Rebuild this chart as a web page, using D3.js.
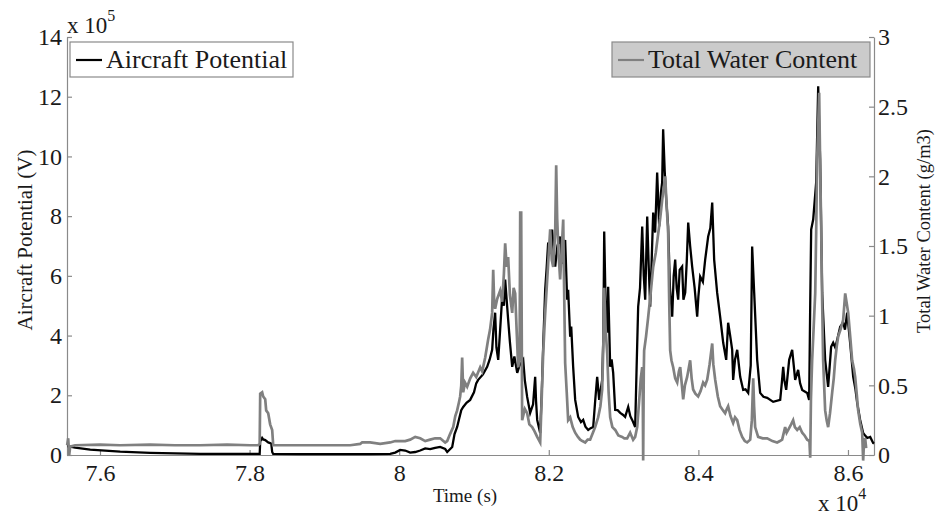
<!DOCTYPE html>
<html>
<head>
<meta charset="utf-8">
<script src="https://cdnjs.cloudflare.com/ajax/libs/d3/7.8.5/d3.min.js"></script>
<style>
	body { margin: 0; background: #fff; }
	svg { display: block; }
</style>
</head>
<body>
<script>
// time axis ticks (s) and value axis ticks
var x_ticks = [76000, 78000, 80000, 82000, 84000, 86000];
var ap_ticks = [0, 2e5, 4e5, 6e5, 8e5, 10e5, 12e5, 14e5];
var twc_ticks = [0, 0.5, 1, 1.5, 2, 2.5, 3];

// Aircraft Potential (V)
var ap_time = [
	75561, 75602, 75668, 75869, 76270, 76671, 77340, 78008, 78115, 78135,
	78142, 78168, 78182, 78209, 78249, 78275, 78290, 78302, 78316, 78676,
	79345, 79612, 79880, 79947, 80013, 80080, 80147, 80214, 80281, 80348,
	80414, 80481, 80548, 80615, 80642, 80709, 80740, 80775, 80800, 80830,
	80856, 80900, 80949, 81000, 81030, 81056, 81120, 81176, 81210, 81243,
	81260, 81283, 81300, 81324, 81350, 81377, 81400, 81417, 81437, 81457,
	81480, 81511, 81540, 81578, 81610, 81658, 81680, 81711, 81751, 81790,
	81818, 81830, 81845, 81885, 81905, 81925, 81952, 81970, 81992, 82020,
	82045, 82065, 82086, 82115, 82152, 82175, 82193, 82219, 82235, 82246,
	82259, 82286, 82300, 82326, 82353, 82393, 82430, 82460, 82490, 82527,
	82560, 82594, 82620, 82647, 82674, 82714, 82730, 82741, 82760, 82781,
	82794, 82821, 82840, 82861, 82888, 82920, 82955, 82990, 83021, 83062,
	83090, 83115, 83155, 83175, 83195, 83220, 83249, 83270, 83289, 83316,
	83335, 83356, 83396, 83422, 83449, 83476, 83500, 83516, 83529, 83550,
	83570, 83596, 83620, 83650, 83670, 83690, 83710, 83730, 83750, 83783,
	83800, 83824, 83845, 83864, 83890, 83917, 83950, 83984, 84000, 84024,
	84060, 84091, 84131, 84160, 84185, 84211, 84251, 84291, 84332, 84372,
	84398, 84425, 84452, 84465, 84490, 84519, 84559, 84599, 84630, 84666,
	84700, 84719, 84746, 84786, 84826, 84870, 84920, 85000, 85094, 85115,
	85134, 85150, 85174, 85214, 85254, 85275, 85294, 85334, 85360, 85388,
	85455, 85481, 85495, 85508, 85535, 85575, 85602, 85615, 85628, 85655,
	85695, 85735, 85775, 85802, 85830, 85856, 85896, 85936, 85960, 85989,
	86029, 86070, 86100, 86123, 86163, 86203, 86230, 86257, 86297, 86337,
	86348
];
var ap_values = [
	30000, 28000, 25000, 18000, 11000, 7000, 4000, 3500, 3500, 3500,
	45000, 57000, 52000, 50000, 42000, 40000, 38000, 10000, 3500, 3000,
	3000, 3000, 4000, 8000, 17000, 15000, 8000, 10000, 15000, 22000,
	20000, 24000, 27000, 20000, 10000, 26800, 70000, 94000, 120000, 150000,
	161000, 175000, 184600, 210000, 240000, 251700, 270000, 295300, 320000, 352400,
	420000, 476600, 360000, 318800, 420000, 530200, 500000, 587300, 520000, 453100,
	380000, 295300, 330000, 275200, 300000, 318800, 250000, 194600, 141000, 170000,
	261800, 180000, 117500, 73800, 200000, 362400, 553700, 620000, 711500, 690000,
	755100, 680000, 631000, 700000, 731600, 640000, 698000, 720000, 600000, 520200,
	553700, 396000, 430000, 295300, 184600, 127500, 110000, 117500, 95000, 83900,
	90000, 94000, 180000, 261800, 184600, 251700, 400000, 748400, 500000, 409400,
	563800, 295300, 320000, 275200, 151000, 150000, 141000, 135000, 127500, 161000,
	130000, 117500, 94000, 300000, 496700, 560000, 765200, 600000, 520200, 798700,
	640000, 496700, 812200, 745000, 946400, 765200, 880000, 912800, 1090700, 950000,
	855800, 765200, 560000, 463100, 600000, 654400, 560000, 520200, 620000, 631000,
	520000, 543700, 650000, 778600, 700000, 631000, 560000, 463100, 530000, 597400,
	580000, 654400, 731600, 760000, 845700, 654400, 543700, 463100, 375900, 318800,
	443000, 400000, 352400, 251700, 320000, 352400, 261800, 218000, 220000, 208000,
	300000, 698000, 543700, 318800, 208000, 195000, 191300, 178000, 184600, 240000,
	295300, 250000, 218000, 318800, 352400, 300000, 251700, 285300, 240000, 218000,
	208000, 184600, 500000, 755100, 788700, 912800, 1235000, 1100000, 990000, 543700,
	318800, 228000, 362400, 375900, 360000, 385900, 429600, 443000, 420000, 476600,
	375900, 261800, 220000, 174500, 117500, 73800, 65000, 57000, 60400, 40300,
	38000
];

// Total Water Content (g/m3)
var twc_time = [
	75561, 75575, 75588, 75602, 75668, 76000, 76270, 76671, 77000, 77340,
	77700, 78008, 78115, 78135, 78142, 78168, 78182, 78209, 78222, 78249,
	78275, 78302, 78316, 78342, 78676, 79345, 79479, 79505, 79612, 79746,
	79880, 79947, 80080, 80147, 80214, 80281, 80348, 80414, 80480, 80548,
	80615, 80642, 80680, 80722, 80750, 80775, 80800, 80815, 80830, 80842,
	80856, 80880, 80909, 80950, 80989, 81030, 81083, 81110, 81150, 81190,
	81215, 81243, 81257, 81270, 81283, 81310, 81350, 81377, 81400, 81417,
	81437, 81457, 81480, 81511, 81530, 81551, 81570, 81591, 81610, 81618,
	81631, 81644, 81680, 81711, 81740, 81778, 81810, 81845, 81885, 81905,
	81925, 81950, 81979, 82000, 82019, 82040, 82059, 82086, 82099, 82112,
	82130, 82152, 82175, 82193, 82205, 82219, 82240, 82259, 82286, 82320,
	82353, 82390, 82420, 82450, 82487, 82520, 82553, 82590, 82620, 82660,
	82690, 82714, 82730, 82741, 82760, 82781, 82800, 82821, 82850, 82888,
	82930, 82981, 83010, 83048, 83088, 83128, 83155, 83182, 83210, 83230,
	83249, 83255, 83262, 83270, 83275, 83300, 83329, 83360, 83396, 83430,
	83463, 83490, 83516, 83556, 83575, 83596, 83610, 83623, 83640, 83663,
	83690, 83717, 83740, 83757, 83780, 83797, 83820, 83850, 83870, 83890,
	83910, 83930, 83960, 83997, 84030, 84064, 84090, 84118, 84150, 84185,
	84200, 84225, 84260, 84291, 84330, 84358, 84380, 84398, 84430, 84465,
	84490, 84519, 84550, 84586, 84620, 84652, 84693, 84715, 84733, 84745,
	84759, 84799, 84860, 84920, 84990, 85053, 85090, 85120, 85160, 85180,
	85201, 85240, 85267, 85290, 85321, 85355, 85388, 85420, 85455, 85485,
	85495, 85505, 85521, 85540, 85562, 85575, 85588, 85615, 85630, 85642,
	85655, 85668, 85695, 85715, 85735, 85760, 85789, 85810, 85829, 85850,
	85869, 85900, 85936, 85963, 85980, 86003, 86030, 86056, 86080, 86096,
	86120, 86136, 86165, 86190, 86203, 86215, 86230, 86243
];
var twc_values = [
	0.07, 0.12, 0.0, 0.06, 0.07, 0.075, 0.07, 0.075, 0.07, 0.07,
	0.075, 0.07, 0.07, 0.08, 0.44, 0.45, 0.42, 0.40, 0.32, 0.30,
	0.22, 0.18, 0.07, 0.07, 0.07, 0.07, 0.08, 0.09, 0.09, 0.08,
	0.09, 0.10, 0.10, 0.11, 0.13, 0.12, 0.10, 0.11, 0.12, 0.12,
	0.09, 0.10, 0.15, 0.20, 0.28, 0.32, 0.38, 0.42, 0.50, 0.70,
	0.45, 0.52, 0.49, 0.55, 0.59, 0.56, 0.63, 0.60, 0.70, 0.83,
	0.90, 1.02, 1.33, 1.10, 1.05, 1.12, 1.18, 1.10, 1.30, 1.52,
	1.35, 1.42, 1.15, 1.02, 1.20, 1.16, 0.90, 0.63, 0.70, 1.74,
	1.74, 0.25, 0.33, 0.30, 0.22, 0.20, 0.17, 0.13, 0.09, 0.40,
	0.73, 1.00, 1.26, 1.45, 1.62, 1.40, 1.35, 1.60, 2.08, 1.70,
	1.45, 1.26, 1.50, 1.69, 1.20, 0.66, 0.45, 0.25, 0.27, 0.20,
	0.16, 0.13, 0.11, 0.10, 0.09, 0.11, 0.11, 0.16, 0.20, 0.27,
	0.35, 0.47, 0.80, 1.20, 0.90, 0.73, 0.45, 0.27, 0.20, 0.18,
	0.14, 0.13, 0.12, 0.12, 0.16, 0.11, 0.13, 0.20, 0.40, 0.55,
	0.63, 0.60, -0.04, 0.60, 0.75, 0.85, 0.99, 1.15, 1.35, 1.45,
	1.59, 1.70, 1.83, 2.00, 1.80, 1.59, 1.10, 0.75, 0.68, 0.63,
	0.55, 0.52, 0.60, 0.63, 0.50, 0.40, 0.50, 0.56, 0.62, 0.68,
	0.55, 0.47, 0.44, 0.42, 0.46, 0.52, 0.50, 0.54, 0.65, 0.80,
	0.65, 0.54, 0.42, 0.35, 0.32, 0.30, 0.33, 0.35, 0.28, 0.23,
	0.27, 0.25, 0.18, 0.13, 0.10, 0.09, 0.11, 0.25, 0.55, 0.35,
	0.20, 0.13, 0.12, 0.12, 0.10, 0.09, 0.10, 0.11, 0.20, 0.16,
	0.18, 0.22, 0.25, 0.20, 0.18, 0.20, 0.16, 0.14, 0.11, 0.10,
	-0.02, 0.40, 0.68, 0.90, 1.16, 1.60, 2.12, 2.60, 2.00, 1.64,
	1.10, 0.68, 0.32, 0.25, 0.20, 0.30, 0.45, 0.55, 0.68, 0.78,
	0.85, 0.90, 0.97, 1.16, 1.10, 1.02, 0.85, 0.68, 0.62, 0.56,
	0.42, 0.32, 0.22, 0.16, -0.04, 0.10, 0.12, 0.05
];

// drawing area
var width = 935;
var height = 517;
var plot_left = 67, plot_right = 874, plot_top = 37, plot_bottom = 455;
var serif = "'Liberation Serif', 'Times New Roman', serif";
var axis_color = "#8a8a8a";
var text_color = "#1a1a1a";

var svg = d3.select("body")
	.append("svg")
	.attr("width", width)
	.attr("height", height)
	.style("font-family", serif);

// scales
var x = d3.scaleLinear().domain([75559, 86348]).range([plot_left, plot_right]);
var y_ap = d3.scaleLinear().domain([0, 14e5]).range([plot_bottom, plot_top]);
var y_twc = d3.scaleLinear().domain([0, 3]).range([plot_bottom, plot_top]);

// style an axis group the same way every time
function style_axis(g, size){
	g.attr("font-family", serif).attr("font-size", size);
	g.select(".domain").attr("stroke", axis_color).attr("stroke-width", 1.2);
	g.selectAll(".tick line").attr("stroke", axis_color).attr("stroke-width", 1.2);
	g.selectAll(".tick text").attr("fill", text_color);
}

// bottom axis (ticks inside)
svg.append("g")
	.attr("transform", "translate(0," + plot_bottom + ")")
	.call(d3.axisBottom(x)
		.tickValues(x_ticks)
		.tickSizeInner(-5)
		.tickSizeOuter(0)
		.tickPadding(9)
		.tickFormat(function(d){ return +(d / 1e4).toFixed(1); }))
	.call(style_axis, 24);

// left axis
svg.append("g")
	.attr("transform", "translate(" + plot_left + ",0)")
	.call(d3.axisLeft(y_ap)
		.tickValues(ap_ticks)
		.tickSizeInner(-5)
		.tickSizeOuter(0)
		.tickPadding(5)
		.tickFormat(function(d){ return d / 1e5; }))
	.call(style_axis, 24);

// right axis
svg.append("g")
	.attr("transform", "translate(" + plot_right + ",0)")
	.call(d3.axisRight(y_twc)
		.tickValues(twc_ticks)
		.tickSizeInner(-5)
		.tickSizeOuter(0)
		.tickPadding(4)
		.tickFormat(function(d){ return d; }))
	.call(style_axis, 24);

// series lines (the water content axis is drawn over the potential one)
var ap_line = d3.line()
	.x(function(d, i){ return x(ap_time[i]); })
	.y(function(d){ return y_ap(d); });
var twc_line = d3.line()
	.x(function(d, i){ return x(twc_time[i]); })
	.y(function(d){ return y_twc(d); });

svg.append("path")
	.datum(ap_values)
	.attr("fill", "none")
	.attr("stroke", "#000")
	.attr("stroke-width", 2.3)
	.attr("d", ap_line);

svg.append("path")
	.datum(twc_values)
	.attr("fill", "none")
	.attr("stroke", "#808080")
	.attr("stroke-width", 2.7)
	.attr("d", twc_line);

// axis titles
svg.append("text")
	.attr("transform", "translate(32,240) rotate(-90)")
	.attr("text-anchor", "middle")
	.attr("font-size", 21)
	.attr("fill", text_color)
	.text("Aircraft Potential (V)");

svg.append("text")
	.attr("transform", "translate(930,231) rotate(-90)")
	.attr("text-anchor", "middle")
	.attr("font-size", 18.5)
	.attr("fill", text_color)
	.text("Total Water Content (g/m3)");

svg.append("text")
	.attr("x", 465)
	.attr("y", 502)
	.attr("text-anchor", "middle")
	.attr("font-size", 19)
	.attr("fill", text_color)
	.text("Time (s)");

// exponent labels
var exp_top = svg.append("text")
	.attr("x", 67)
	.attr("y", 33)
	.attr("font-size", 23)
	.attr("fill", text_color);
exp_top.append("tspan").text("x 10");
exp_top.append("tspan").attr("font-size", 16).attr("dy", -12).text("5");

var exp_bottom = svg.append("text")
	.attr("x", 818)
	.attr("y", 511)
	.attr("font-size", 23)
	.attr("fill", text_color);
exp_bottom.append("tspan").text("x 10");
exp_bottom.append("tspan").attr("font-size", 16).attr("dy", -12).text("4");

// legends
function legend(x0, w, fill, stroke, label){
	var g = svg.append("g");
	g.append("rect")
		.attr("x", x0)
		.attr("y", 42)
		.attr("width", w)
		.attr("height", 35)
		.attr("fill", fill)
		.attr("stroke", axis_color)
		.attr("stroke-width", 1.2);
	g.append("line")
		.attr("x1", x0 + 6)
		.attr("x2", x0 + 32)
		.attr("y1", 60)
		.attr("y2", 60)
		.attr("stroke", stroke)
		.attr("stroke-width", 2.2);
	g.append("text")
		.attr("x", x0 + 36)
		.attr("y", 68)
		.attr("font-size", 26)
		.attr("fill", text_color)
		.text(label);
}
legend(70, 223, "#fff", "#000", "Aircraft Potential");
legend(612, 258, "#cbcbcb", "#808080", "Total Water Content");
</script>
</body>
</html>
